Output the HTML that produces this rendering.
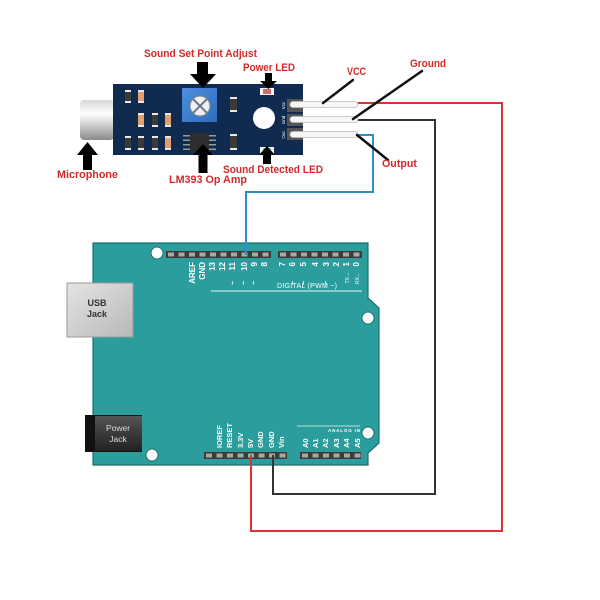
<!DOCTYPE html>
<html><head><meta charset="utf-8"><style>
html,body{margin:0;padding:0;background:#fff;}
svg{display:block;}
text{font-family:"Liberation Sans",sans-serif;}
</style></head><body>
<svg width="600" height="600" viewBox="0 0 600 600" xmlns="http://www.w3.org/2000/svg">
<defs>
<linearGradient id="mic" x1="0" y1="0" x2="0" y2="1">
<stop offset="0" stop-color="#d8d8d8"/><stop offset="0.35" stop-color="#ffffff"/><stop offset="1" stop-color="#8a8a8a"/>
</linearGradient>
<linearGradient id="usb" x1="0" y1="0" x2="1" y2="1">
<stop offset="0" stop-color="#e4e4e4"/><stop offset="1" stop-color="#b8b8b8"/>
</linearGradient>
<linearGradient id="pj" x1="0" y1="0" x2="0" y2="1">
<stop offset="0" stop-color="#555"/><stop offset="0.5" stop-color="#3a3a3a"/><stop offset="1" stop-color="#222"/>
</linearGradient>
<linearGradient id="pot" x1="0" y1="0" x2="1" y2="1">
<stop offset="0" stop-color="#4d8fe0"/><stop offset="1" stop-color="#2f6cbc"/>
</linearGradient>
</defs>
<rect width="600" height="600" fill="#fff"/>

<!-- Arduino board -->
<path d="M93,243 L368,243 L368,298 L379,308 L379,443 L368,453 L368,465 L93,465 Z" fill="#2a9d9c" stroke="#1f6e6e" stroke-width="1.2"/>
<!-- USB jack -->
<rect x="67" y="283" width="66" height="54" fill="url(#usb)" stroke="#9a9a9a" stroke-width="1"/>
<text x="97" y="306" font-size="9" fill="#333" text-anchor="middle" font-weight="bold">USB</text>
<text x="97" y="317" font-size="9" fill="#333" text-anchor="middle" font-weight="bold">Jack</text>
<!-- Power jack -->
<rect x="85" y="415" width="57" height="37" fill="#111"/>
<rect x="95" y="416" width="47" height="35" fill="url(#pj)"/>
<text x="118" y="431" font-size="8.5" fill="#ddd" text-anchor="middle">Power</text>
<text x="118" y="442" font-size="8.5" fill="#ddd" text-anchor="middle">Jack</text>
<!-- holes -->
<circle cx="157" cy="253" r="6" fill="#fff" stroke="#1f6e6e" stroke-width="1"/>
<circle cx="368" cy="318" r="6" fill="#fff" stroke="#1f6e6e" stroke-width="1"/>
<circle cx="368" cy="433" r="6" fill="#fff" stroke="#1f6e6e" stroke-width="1"/>
<circle cx="152" cy="455" r="6" fill="#fff" stroke="#1f6e6e" stroke-width="1"/>

<!-- top headers -->
<rect x="166" y="251" width="105" height="7" fill="#3c3c3c"/>
<g fill="#a8a8a8">
<rect x="168" y="252.5" width="6" height="4"/><rect x="178.5" y="252.5" width="6" height="4"/><rect x="189" y="252.5" width="6" height="4"/><rect x="199.5" y="252.5" width="6" height="4"/><rect x="210" y="252.5" width="6" height="4"/><rect x="220.5" y="252.5" width="6" height="4"/><rect x="231" y="252.5" width="6" height="4"/><rect x="241.5" y="252.5" width="6" height="4"/><rect x="252" y="252.5" width="6" height="4"/><rect x="262.5" y="252.5" width="6" height="4"/>
</g>
<rect x="278" y="251" width="84" height="7" fill="#3c3c3c"/>
<g fill="#a8a8a8">
<rect x="280" y="252.5" width="6" height="4"/><rect x="290.5" y="252.5" width="6" height="4"/><rect x="301" y="252.5" width="6" height="4"/><rect x="311.5" y="252.5" width="6" height="4"/><rect x="322" y="252.5" width="6" height="4"/><rect x="332.5" y="252.5" width="6" height="4"/><rect x="343" y="252.5" width="6" height="4"/><rect x="353.5" y="252.5" width="6" height="4"/>
</g>
<g fill="#fff" font-size="8" font-weight="bold" text-anchor="end">
<text transform="translate(195,262) rotate(-90)">AREF</text>
<text transform="translate(205,262) rotate(-90)">GND</text>
<text transform="translate(215,262) rotate(-90)">13</text>
<text transform="translate(225,262) rotate(-90)">12</text>
<text transform="translate(235,262) rotate(-90)">11</text>
<text transform="translate(247,262) rotate(-90)">10</text>
<text transform="translate(257,262) rotate(-90)">9</text>
<text transform="translate(267,262) rotate(-90)">8</text>
<text transform="translate(285,262) rotate(-90)">7</text>
<text transform="translate(295,262) rotate(-90)">6</text>
<text transform="translate(306,262) rotate(-90)">5</text>
<text transform="translate(318,262) rotate(-90)">4</text>
<text transform="translate(329,262) rotate(-90)">3</text>
<text transform="translate(339,262) rotate(-90)">2</text>
<text transform="translate(349,262) rotate(-90)">1</text>
<text transform="translate(359,262) rotate(-90)">0</text>
</g>
<g fill="#fff" font-size="7" font-weight="bold" text-anchor="middle">
<text transform="translate(235,283) rotate(-90)">~</text>
<text transform="translate(246,283) rotate(-90)">~</text>
<text transform="translate(256,283) rotate(-90)">~</text>
<text transform="translate(295,283) rotate(-90)">~</text>
<text transform="translate(306,283) rotate(-90)">~</text>
<text transform="translate(328,283) rotate(-90)">~</text>
</g>
<g fill="#fff" font-size="5" text-anchor="end">
<text transform="translate(349,272) rotate(-90)">TX→</text>
<text transform="translate(359,272) rotate(-90)">RX←</text>
</g>
<text x="277" y="288" font-size="7" fill="#fff" textLength="60">DIGITAL  (PWM ~)</text>
<line x1="211" y1="291" x2="362" y2="291" stroke="#e8f4f4" stroke-width="1"/>

<!-- bottom headers -->
<rect x="204" y="452" width="83" height="7" fill="#3c3c3c"/>
<g fill="#a8a8a8">
<rect x="206" y="453.5" width="6" height="4"/><rect x="216.5" y="453.5" width="6" height="4"/><rect x="227" y="453.5" width="6" height="4"/><rect x="237.5" y="453.5" width="6" height="4"/><rect x="248" y="453.5" width="6" height="4"/><rect x="258.5" y="453.5" width="6" height="4"/><rect x="269" y="453.5" width="6" height="4"/><rect x="279.5" y="453.5" width="6" height="4"/>
</g>
<rect x="300" y="452" width="61" height="7" fill="#3c3c3c"/>
<g fill="#a8a8a8">
<rect x="302" y="453.5" width="6" height="4"/><rect x="312.5" y="453.5" width="6" height="4"/><rect x="323" y="453.5" width="6" height="4"/><rect x="333.5" y="453.5" width="6" height="4"/><rect x="344" y="453.5" width="6" height="4"/><rect x="354.5" y="453.5" width="6" height="4"/>
</g>
<g fill="#fff" font-size="7.5" font-weight="bold">
<text transform="translate(222,448) rotate(-90)">IOREF</text>
<text transform="translate(232,448) rotate(-90)">RESET</text>
<text transform="translate(243,448) rotate(-90)">3.3V</text>
<text transform="translate(253,448) rotate(-90)">5V</text>
<text transform="translate(263,448) rotate(-90)">GND</text>
<text transform="translate(274,448) rotate(-90)">GND</text>
<text transform="translate(284,448) rotate(-90)">Vin</text>
<text transform="translate(308,448) rotate(-90)">A0</text>
<text transform="translate(318,448) rotate(-90)">A1</text>
<text transform="translate(328,448) rotate(-90)">A2</text>
<text transform="translate(339,448) rotate(-90)">A3</text>
<text transform="translate(349,448) rotate(-90)">A4</text>
<text transform="translate(360,448) rotate(-90)">A5</text>
</g>
<line x1="297" y1="426" x2="360" y2="426" stroke="#e8f4f4" stroke-width="0.8"/>
<text x="328" y="432" font-size="4.5" fill="#fff" font-weight="bold" textLength="32">ANALOG IN</text>

<!-- sensor module -->
<rect x="80" y="100" width="34" height="40" rx="4" fill="url(#mic)"/>
<line x1="113" y1="113" x2="120" y2="113" stroke="#888" stroke-width="1"/>
<line x1="113" y1="126" x2="120" y2="126" stroke="#888" stroke-width="1"/>
<rect x="113" y="84" width="190" height="71" fill="#112a4f"/>
<!-- resistors -->
<g>
<rect x="125" y="90" width="6" height="13" fill="#3a3a3a"/><rect x="138" y="90" width="6" height="13" fill="#e0a070"/>
<rect x="138" y="113" width="6" height="14" fill="#e0a070"/><rect x="152" y="113" width="6" height="14" fill="#3a3a3a"/><rect x="165" y="113" width="6" height="14" fill="#e0a070"/>
<rect x="125" y="136" width="6" height="14" fill="#3a3a3a"/><rect x="138" y="136" width="6" height="14" fill="#3a3a3a"/><rect x="152" y="136" width="6" height="14" fill="#3a3a3a"/><rect x="165" y="136" width="6" height="14" fill="#e0a070"/>
<rect x="230" y="97" width="7" height="15" fill="#3a3a3a"/>
<rect x="230" y="134" width="7" height="16" fill="#3a3a3a"/>
</g>
<g fill="#e8e8e8">
<rect x="125" y="90" width="6" height="2"/><rect x="125" y="101" width="6" height="2"/>
<rect x="138" y="90" width="6" height="2"/><rect x="138" y="101" width="6" height="2"/>
<rect x="138" y="113" width="6" height="2"/><rect x="138" y="125" width="6" height="2"/>
<rect x="152" y="113" width="6" height="2"/><rect x="152" y="125" width="6" height="2"/>
<rect x="165" y="113" width="6" height="2"/><rect x="165" y="125" width="6" height="2"/>
<rect x="125" y="136" width="6" height="2"/><rect x="125" y="148" width="6" height="2"/>
<rect x="138" y="136" width="6" height="2"/><rect x="138" y="148" width="6" height="2"/>
<rect x="152" y="136" width="6" height="2"/><rect x="152" y="148" width="6" height="2"/>
<rect x="165" y="136" width="6" height="2"/><rect x="165" y="148" width="6" height="2"/>
<rect x="230" y="97" width="7" height="2"/><rect x="230" y="110" width="7" height="2"/>
<rect x="230" y="134" width="7" height="2"/><rect x="230" y="148" width="7" height="2"/>
</g>
<!-- pot -->
<rect x="182" y="88" width="35" height="34" fill="url(#pot)"/>
<circle cx="200" cy="106" r="10" fill="#f0f0f0" stroke="#7a8a9a" stroke-width="1.2"/>
<path d="M193,99 L207,113 M207,99 L193,113" stroke="#6a7a8a" stroke-width="2"/>
<!-- IC -->
<g fill="#999">
<rect x="183" y="135" width="7" height="1.5"/><rect x="183" y="139.5" width="7" height="1.5"/><rect x="183" y="144" width="7" height="1.5"/><rect x="183" y="148.5" width="7" height="1.5"/>
<rect x="209" y="135" width="7" height="1.5"/><rect x="209" y="139.5" width="7" height="1.5"/><rect x="209" y="144" width="7" height="1.5"/><rect x="209" y="148.5" width="7" height="1.5"/>
</g>
<rect x="190" y="133" width="19" height="19" fill="#2e2e2e"/>
<!-- LEDs & hole -->
<rect x="260" y="88" width="14" height="7" fill="#f4f4f4"/><rect x="263" y="89" width="8" height="5" fill="#c87070"/>
<rect x="260" y="147" width="14" height="7" fill="#f4f4f4"/><rect x="263" y="148" width="8" height="5" fill="#8ac8a0"/>
<circle cx="264" cy="118" r="11" fill="#fff"/>
<!-- pin header -->
<rect x="287" y="99" width="16" height="13" fill="#555"/>
<rect x="287" y="114" width="16" height="12" fill="#555"/>
<rect x="287" y="128" width="16" height="12" fill="#555"/>
<g fill="#fff" font-size="4.5" text-anchor="middle">
<text transform="translate(285,105.5) rotate(-90)">Vcc</text>
<text transform="translate(285,120) rotate(-90)">Gnd</text>
<text transform="translate(285,135) rotate(-90)">Out</text>
</g>
<!-- wires -->
<path d="M356,103 H502 V531 H251 V455" fill="none" stroke="#dd3333" stroke-width="2"/>
<path d="M356,120 H435 V494 H273 V455" fill="none" stroke="#333" stroke-width="2"/>
<path d="M356,135 H373 V192 H246 V255" fill="none" stroke="#2e8fc8" stroke-width="2"/>
<!-- pin rods -->
<rect x="290" y="101.5" width="68" height="6" rx="3" fill="#f6f6f6" stroke="#bbb" stroke-width="0.8"/>
<rect x="290" y="116.5" width="68" height="6" rx="3" fill="#f6f6f6" stroke="#bbb" stroke-width="0.8"/>
<rect x="290" y="131.5" width="68" height="6" rx="3" fill="#f6f6f6" stroke="#bbb" stroke-width="0.8"/>

<!-- leader lines -->
<g stroke="#111" stroke-width="2.5" stroke-linecap="round">
<line x1="353" y1="80" x2="323" y2="103"/>
<line x1="422" y1="71" x2="353" y2="119"/>
<line x1="357" y1="135" x2="388" y2="160"/>
</g>

<!-- arrows -->
<g fill="#000">
<polygon points="197,62 208,62 208,74 216,74 203,88 190,74 197,74"/>
<polygon points="265,73 272,73 272,81 277,81 268.5,89 260,81 265,81"/>
<polygon points="87.5,142 98,155 92,155 92,170 83,170 83,155 77,155"/>
<polygon points="203,144 213,155 207.5,155 207.5,173 198.5,173 198.5,155 193,155"/>
<polygon points="267,146 275,155 271,155 271,164 263,164 263,155 259,155"/>
</g>

<!-- labels -->
<g fill="#d12a2a" font-weight="bold" font-size="11">
<text x="144" y="57" textLength="113" lengthAdjust="spacingAndGlyphs">Sound Set Point Adjust</text>
<text x="243" y="71" textLength="52" lengthAdjust="spacingAndGlyphs">Power LED</text>
<text x="347" y="75" textLength="19" lengthAdjust="spacingAndGlyphs">VCC</text>
<text x="410" y="67" textLength="36" lengthAdjust="spacingAndGlyphs">Ground</text>
<text x="382" y="167" textLength="35" lengthAdjust="spacingAndGlyphs">Output</text>
<text x="223" y="173" textLength="100" lengthAdjust="spacingAndGlyphs">Sound Detected LED</text>
<text x="169" y="183" textLength="78" lengthAdjust="spacingAndGlyphs">LM393 Op Amp</text>
<text x="57" y="178" textLength="61" lengthAdjust="spacingAndGlyphs">Microphone</text>
</g>
</svg>
</body></html>
